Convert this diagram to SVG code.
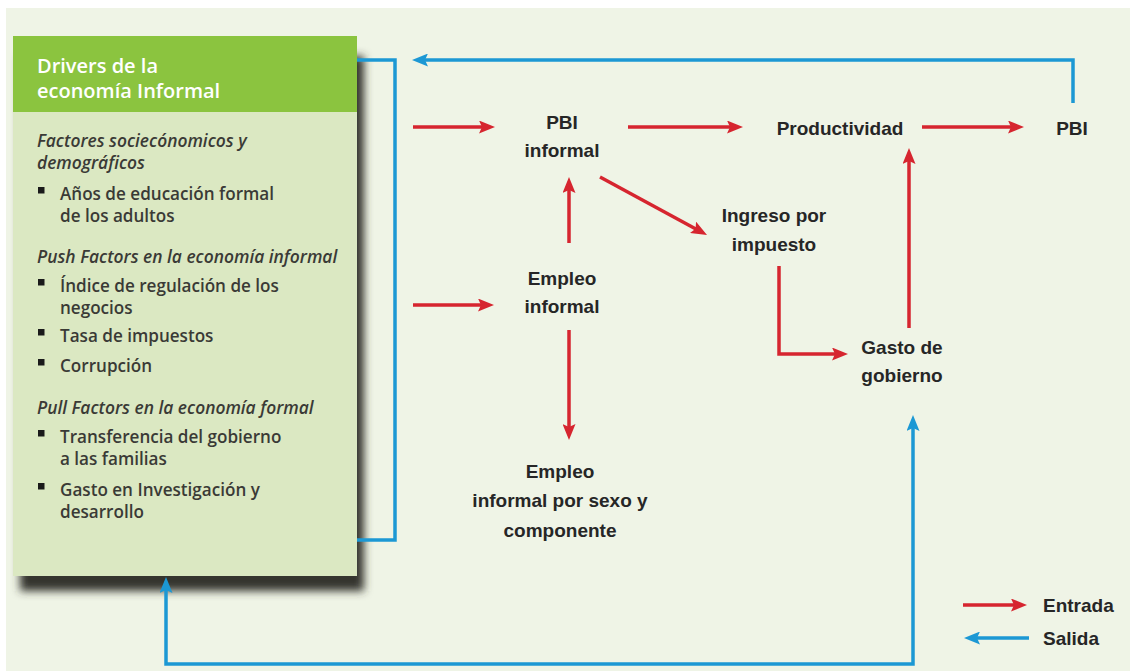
<svg xmlns="http://www.w3.org/2000/svg" width="1130" height="671" viewBox="0 0 1130 671">
<defs>
<style>
.node{font-family:"Liberation Sans",Arial,sans-serif;font-weight:bold;font-size:19px;fill:#262626;text-anchor:middle}
.leg{font-family:"Liberation Sans",Arial,sans-serif;font-weight:bold;font-size:19px;fill:#262626}
.hdr{font-family:"Open Sans","Liberation Sans",sans-serif;font-weight:600;font-size:20px;fill:#ffffff}
.it{font-family:"Open Sans","Liberation Sans",sans-serif;font-style:italic;font-weight:600;font-size:17.4px;fill:#3a3a36}
.bt{font-family:"Open Sans","Liberation Sans",sans-serif;font-weight:600;font-size:17.1px;fill:#3a3a36}
.bul{fill:#1a1a1a}
.red{fill:none;stroke:#d6252f;stroke-width:3.5}
.blue{fill:none;stroke:#1c98d4;stroke-width:3.5}
</style>
<marker id="ahr" markerUnits="userSpaceOnUse" markerWidth="16" markerHeight="13" refX="8" refY="6.5" orient="auto-start-reverse">
<path d="M0,0 L16,6.5 L0,13 L3,6.5 z" fill="#d6252f"/>
</marker>
<marker id="ahb" markerUnits="userSpaceOnUse" markerWidth="16" markerHeight="13" refX="8" refY="6.5" orient="auto-start-reverse">
<path d="M0,0 L16,6.5 L0,13 L3,6.5 z" fill="#1c98d4"/>
</marker>
<filter id="sh" x="-10%" y="-10%" width="120%" height="120%">
<feGaussianBlur stdDeviation="4"/>
</filter>
</defs>

<rect x="0" y="0" width="1130" height="671" fill="#ffffff"/>
<rect x="6" y="8" width="1124" height="663" fill="#eff4e6"/>

<g id="drivers">
<rect x="20" y="56" width="344" height="535" fill="#36362f" filter="url(#sh)"/>
<rect x="13" y="112" width="344" height="464" fill="#dbe8c2"/>
<rect x="13" y="36" width="344" height="76" fill="#8bc43f"/>
<text class="hdr" x="37" y="73">Drivers de la<tspan x="37" y="98">economía Informal</tspan></text>
<text class="it" x="37" y="147">Factores sociecónomicos y<tspan x="37" y="169">demográficos</tspan></text>
<rect class="bul" x="38" y="187" width="6.5" height="6.5"/>
<text class="bt" x="60" y="200">Años de educación formal<tspan x="60" y="222">de los adultos</tspan></text>
<text class="it" x="37" y="263">Push Factors en la economía informal</text>
<rect class="bul" x="38" y="279" width="6.5" height="6.5"/>
<text class="bt" x="60" y="292">Índice de regulación de los<tspan x="60" y="314">negocios</tspan></text>
<rect class="bul" x="38" y="329" width="6.5" height="6.5"/>
<text class="bt" x="60" y="342">Tasa de impuestos</text>
<rect class="bul" x="38" y="359" width="6.5" height="6.5"/>
<text class="bt" x="60" y="372">Corrupción</text>
<text class="it" x="37" y="414">Pull Factors en la economía formal</text>
<rect class="bul" x="38" y="430" width="6.5" height="6.5"/>
<text class="bt" x="60" y="443">Transferencia del gobierno<tspan x="60" y="465">a las familias</tspan></text>
<rect class="bul" x="38" y="483" width="6.5" height="6.5"/>
<text class="bt" x="60" y="496">Gasto en Investigación y<tspan x="60" y="518">desarrollo</tspan></text>
</g>

<g id="pbi-informal"><text class="node" x="562" y="129">PBI<tspan x="562" y="157">informal</tspan></text></g>
<g id="productividad"><text class="node" x="840" y="135">Productividad</text></g>
<g id="pbi"><text class="node" x="1072" y="135">PBI</text></g>
<g id="ingreso"><text class="node" x="774" y="222">Ingreso por<tspan x="774" y="251">impuesto</tspan></text></g>
<g id="empleo-informal"><text class="node" x="562" y="285">Empleo<tspan x="562" y="313">informal</tspan></text></g>
<g id="gasto"><text class="node" x="902" y="354">Gasto de<tspan x="902" y="382">gobierno</tspan></text></g>
<g id="empleo-sexo"><text class="node" x="560" y="478">Empleo<tspan x="560" y="507">informal por sexo y</tspan><tspan x="560" y="537">componente</tspan></text></g>

<g id="connectors">
<path class="red" d="M413,127 H487" marker-end="url(#ahr)"/>
<path class="red" d="M628,127 H735" marker-end="url(#ahr)"/>
<path class="red" d="M922,127 H1016" marker-end="url(#ahr)"/>
<path class="red" d="M600,177 L700,231.2" marker-end="url(#ahr)"/>
<path class="red" d="M569,243 V185" marker-end="url(#ahr)"/>
<path class="red" d="M413,305 H486" marker-end="url(#ahr)"/>
<path class="red" d="M569,330 V432" marker-end="url(#ahr)"/>
<path class="red" d="M779,266 V354 H840" marker-end="url(#ahr)"/>
<path class="red" d="M909,328 V156" marker-end="url(#ahr)"/>
<path class="blue" d="M1073,103 V60 H420" marker-end="url(#ahb)"/>
<path class="blue" d="M357,60 H395 V540 H357"/>
<path class="blue" d="M166,585 V664 H913 V423" marker-start="url(#ahb)" marker-end="url(#ahb)"/>
</g>

<g id="legend">
<path class="red" d="M963,605 H1019" marker-end="url(#ahr)"/>
<text class="leg" x="1043" y="612">Entrada</text>
<path class="blue" d="M1029,638 H972" marker-end="url(#ahb)"/>
<text class="leg" x="1043" y="645">Salida</text>
</g>
</svg>
